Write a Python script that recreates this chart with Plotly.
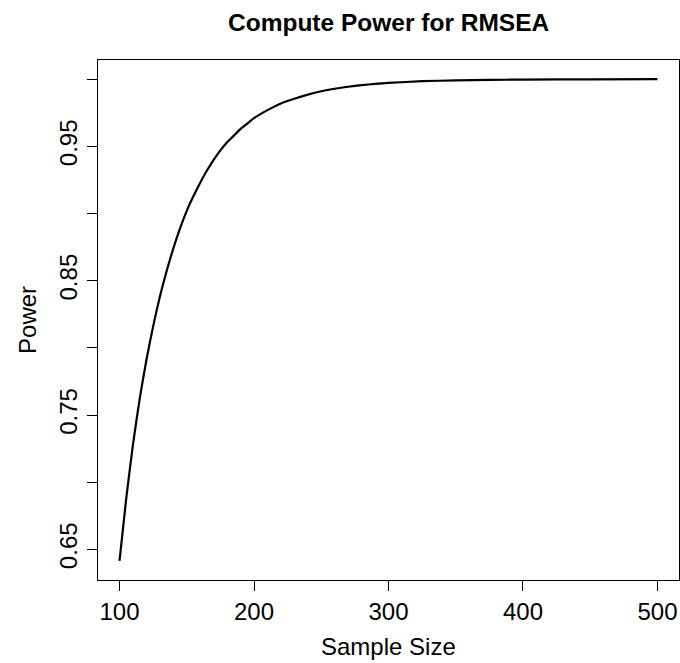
import plotly.graph_objects as go

sample_size = [100, 105, 110, 115, 120, 125, 130, 135, 140, 145, 150, 155, 160, 165,
               170, 175, 180, 185, 190, 195, 200, 210, 220, 230, 240, 250, 260, 270,
               280, 290, 300, 325, 350, 375, 400, 450, 500]
power = [0.6415, 0.688, 0.728, 0.762, 0.791, 0.816, 0.838, 0.857, 0.874, 0.889,
         0.902, 0.913, 0.923, 0.932, 0.940, 0.947, 0.953, 0.958, 0.963, 0.967,
         0.971, 0.977, 0.982, 0.9855, 0.9885, 0.991, 0.9929, 0.9944, 0.9956, 0.9965,
         0.9972, 0.9985, 0.9991, 0.9995, 0.9997, 0.9999, 1.0]

x_ticks = [100, 200, 300, 400, 500]
y_ticks = [0.65, 0.70, 0.75, 0.80, 0.85, 0.90, 0.95, 1.00]
y_tick_text = ["0.65", "", "0.75", "", "0.85", "", "0.95", ""]

FONT = "Liberation Sans, Arial, Helvetica, sans-serif"

fig = go.Figure()
fig.add_trace(go.Scatter(x=sample_size, y=power, mode="lines",
                         line=dict(color="black", width=2.2, shape="spline", smoothing=0.6),
                         hoverinfo="skip", showlegend=False))

fig.update_layout(
    width=680, height=663,
    margin=dict(l=98, r=1, t=60, b=83),
    paper_bgcolor="white", plot_bgcolor="white",
    font=dict(family=FONT, size=24, color="black"),
    showlegend=False,
    xaxis=dict(range=[84, 516], tickvals=x_ticks, ticktext=[str(v) for v in x_ticks],
               ticks="outside", ticklen=10, tickcolor="black", tickwidth=1,
               showline=True, linecolor="black", linewidth=1, mirror=True,
               showgrid=False, zeroline=False, automargin=False,
               tickfont=dict(size=24)),
    yaxis=dict(range=[0.6272, 1.0143], tickvals=y_ticks, ticktext=y_tick_text,
               ticks="outside", ticklen=10, tickcolor="black", tickwidth=1,
               showline=True, linecolor="black", linewidth=1, mirror=True,
               showgrid=False, zeroline=False, tickangle=-90, automargin=False,
               tickfont=dict(size=24)),
    annotations=[
        dict(text="<b>Compute Power for RMSEA</b>", xref="paper", yref="paper",
             x=0.5, y=1.0725, xanchor="center", yanchor="middle", showarrow=False,
             font=dict(size=24.5, family=FONT)),
        dict(text="Sample Size", xref="paper", yref="paper",
             x=0.5, y=-0.128, xanchor="center", yanchor="middle", showarrow=False,
             font=dict(size=24, family=FONT)),
        dict(text="Power", xref="paper", yref="paper", textangle=-90,
             x=-0.1223, y=0.5, xanchor="center", yanchor="middle", showarrow=False,
             font=dict(size=24, family=FONT)),
    ],
)

fig.write_html("out.html",
               config={"displayModeBar": False, "staticPlot": True},
               post_script="document.body.style.margin='0';document.body.style.padding='0';")
